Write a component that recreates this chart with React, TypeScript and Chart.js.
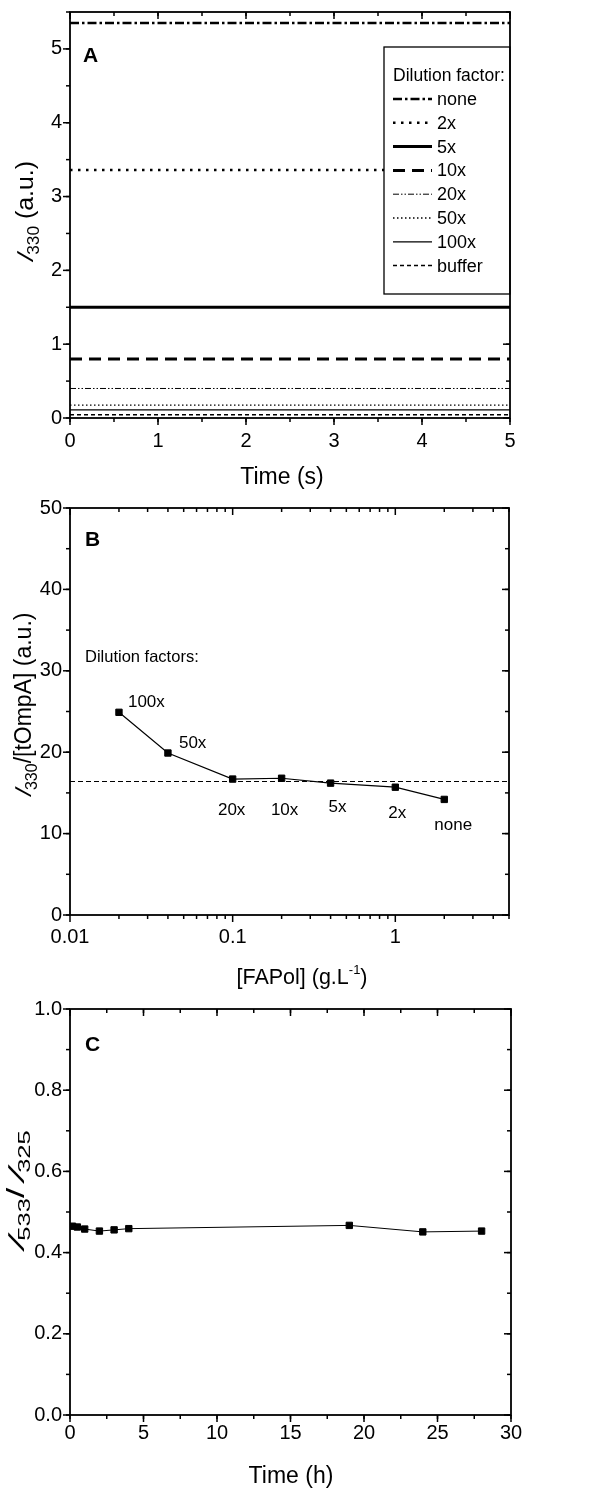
import React, { useEffect, useRef } from 'react';
import { Chart, registerables } from 'chart.js';

Chart.register(...registerables);

const FONT = "'Liberation Sans', Arial, Helvetica, sans-serif";

// ---------- Panel A data ----------
const timeRangeA = [0, 5];
const dilutionNamesA = ['none', '2x', '5x', '10x', '20x', '50x', '100x', 'buffer'];
const intensityA = [5.35, 3.36, 1.5, 0.8, 0.4, 0.175, 0.11, 0.045];

// ---------- Panel B data ----------
const fapolB = [0.02, 0.04, 0.1, 0.2, 0.4, 1, 2];
const ratioB = [24.9, 19.9, 16.7, 16.8, 16.2, 15.7, 14.2];
const dilutionNamesB = ['100x', '50x', '20x', '10x', '5x', '2x', 'none'];
const meanRatioB = 16.4;
const fapolRangeB = [0.01, 5];
const logTicksB = [0.01, 0.1, 1];

// ---------- Panel C data ----------
const timeC = [0.17, 0.5, 1, 2, 3, 4, 19, 24, 28];
const ratioC = [0.465, 0.463, 0.458, 0.453, 0.456, 0.459, 0.467, 0.451, 0.453];

// ---------- styles ----------
const lineStylesA = [
  { width: 2.5, dash: [9, 3, 2.5, 3] },
  { width: 2.5, dash: [2.5, 5.5] },
  { width: 3, dash: [] as number[] },
  { width: 3, dash: [12, 7] },
  { width: 1, dash: [6, 2, 1.5, 2, 1.5, 2] },
  { width: 1.3, dash: [1.5, 2.5] },
  { width: 1.3, dash: [] as number[] },
  { width: 1.5, dash: [4, 3] },
];

// label offsets (px) relative to each point in panel B
const labelOffsetsB = [
  { dx: 9, dy: -10, align: 'left' },
  { dx: 11, dy: -10, align: 'left' },
  { dx: -1, dy: 31, align: 'center' },
  { dx: 3, dy: 32, align: 'center' },
  { dx: 7, dy: 24, align: 'center' },
  { dx: 2, dy: 26, align: 'center' },
  { dx: 9, dy: 26, align: 'center' },
];

type Part = { t: string; font: string; dy?: number; skew?: number; pad?: number };

function drawRich(
  ctx: CanvasRenderingContext2D,
  x: number,
  y: number,
  parts: Part[],
  align: 'center' | 'left',
  rotate = false,
  sx = 1
) {
  ctx.save();
  ctx.fillStyle = '#000';
  ctx.textBaseline = 'alphabetic';
  ctx.textAlign = 'left';
  let total = 0;
  const widths = parts.map((p) => {
    ctx.font = p.font;
    const w = ctx.measureText(p.t).width + (p.pad || 0);
    total += w;
    return w;
  });
  ctx.translate(x, y);
  if (rotate) ctx.rotate(-Math.PI / 2);
  ctx.scale(sx, 1);
  let cx = align === 'center' ? -total / 2 : 0;
  parts.forEach((p, i) => {
    ctx.font = p.font;
    if (p.skew) {
      ctx.save();
      ctx.translate(cx + (p.pad || 0) / 2, p.dy || 0);
      ctx.transform(1, 0, -p.skew, 1, 0, 0);
      ctx.fillText(p.t, 0, 0);
      ctx.restore();
    } else {
      ctx.fillText(p.t, cx, p.dy || 0);
    }
    cx += widths[i];
  });
  ctx.restore();
}

function steps(min: number, max: number, step: number) {
  const out: number[] = [];
  const n = Math.round((max - min) / step);
  for (let i = 0; i <= n; i++) out.push(+(min + i * step).toFixed(6));
  return out;
}

function logMinor(decades: number[], max: number) {
  const out: number[] = [];
  decades.forEach((d) => {
    for (let k = 2; k <= 9; k++) {
      const v = +(k * d).toFixed(6);
      if (v <= max) out.push(v);
    }
  });
  return out;
}

function line(ctx: CanvasRenderingContext2D, x1: number, y1: number, x2: number, y2: number) {
  ctx.beginPath();
  ctx.moveTo(x1, y1);
  ctx.lineTo(x2, y2);
  ctx.stroke();
}

function makeFramePlugin(xMinor: number[], yMinor: number[], extra?: (chart: any) => void) {
  return {
    id: 'frameTicks',
    afterDatasetsDraw(chart: any) {
      const ctx: CanvasRenderingContext2D = chart.ctx;
      const { left, right, top, bottom } = chart.chartArea;
      const xs = chart.scales.x;
      const ys = chart.scales.y;
      const MAJ = 7;
      const MIN = 4;
      ctx.save();
      ctx.strokeStyle = '#000';
      ctx.lineWidth = 1.5;
      ctx.setLineDash([]);
      xs.ticks.forEach((t: any) => {
        const px = xs.getPixelForValue(t.value);
        line(ctx, px, bottom, px, bottom + MAJ);
        line(ctx, px, top, px, top + MAJ);
      });
      xMinor.forEach((v) => {
        const px = xs.getPixelForValue(v);
        if (px < left - 0.5 || px > right + 0.5) return;
        line(ctx, px, bottom, px, bottom + MIN);
        line(ctx, px, top, px, top + MIN);
      });
      ys.ticks.forEach((t: any) => {
        const py = ys.getPixelForValue(t.value);
        line(ctx, left - MAJ, py, left, py);
        line(ctx, right - MAJ, py, right, py);
      });
      yMinor.forEach((v) => {
        const py = ys.getPixelForValue(v);
        if (py < top - 0.5 || py > bottom + 0.5) return;
        line(ctx, left - MIN, py, left, py);
        line(ctx, right - MIN, py, right, py);
      });
      ctx.restore();
    },
    afterDraw(chart: any) {
      const ctx: CanvasRenderingContext2D = chart.ctx;
      if (extra) extra(chart);
      const { left, right, top, bottom } = chart.chartArea;
      ctx.save();
      ctx.strokeStyle = '#000';
      ctx.lineWidth = 1.8;
      ctx.setLineDash([]);
      ctx.strokeRect(left, top, right - left, bottom - top);
      ctx.restore();
    },
  };
}

const tickFont = { family: FONT, size: 20 };
const titleFont = `23px ${FONT}`;
const italicFont = `italic 23px ${FONT}`;
const subFont = `16px ${FONT}`;
const letterFont = `bold 21px ${FONT}`;

const fitY = (s: any) => {
  s.width = 70;
  s.paddingTop = 0;
  s.paddingBottom = 0;
};
const fitX = (s: any) => {
  s.height = 40;
  s.paddingLeft = 0;
  s.paddingRight = 0;
};

function baseScale(extra: any) {
  return {
    type: 'linear',
    grid: { display: false, drawTicks: false },
    border: { display: false },
    ...extra,
    ticks: { color: '#000', font: tickFont, ...(extra.ticks || {}) },
  };
}

function configA(): any {
  const datasets = dilutionNamesA.map((name, i) => ({
    label: name,
    data: timeRangeA.map((t) => ({ x: t, y: intensityA[i] })),
    borderColor: '#000',
    borderWidth: lineStylesA[i].width,
    borderDash: lineStylesA[i].dash,
    borderCapStyle: 'butt',
    pointRadius: 0,
    fill: false,
    tension: 0,
  }));
  const extra = (chart: any) => {
    const ctx: CanvasRenderingContext2D = chart.ctx;
    const { left, right, top } = chart.chartArea;
    // legend box
    const bx = right - 126;
    const by = top + 35;
    const bw = 126;
    const bh = 247;
    ctx.save();
    ctx.fillStyle = '#fff';
    ctx.fillRect(bx, by, bw, bh);
    ctx.strokeStyle = '#000';
    ctx.lineWidth = 1.3;
    ctx.strokeRect(bx, by, bw, bh);
    ctx.fillStyle = '#000';
    ctx.font = `17.5px ${FONT}`;
    ctx.textBaseline = 'middle';
    ctx.textAlign = 'left';
    ctx.fillText('Dilution factor:', bx + 9, by + 29);
    ctx.font = `18px ${FONT}`;
    dilutionNamesA.forEach((name, i) => {
      const y = by + 52 + i * 23.8;
      ctx.strokeStyle = '#000';
      ctx.lineWidth = lineStylesA[i].width;
      ctx.setLineDash(lineStylesA[i].dash);
      ctx.lineCap = 'butt';
      line(ctx, bx + 9, y, bx + 48, y);
      ctx.setLineDash([]);
      ctx.fillText(name, bx + 53, y + 1);
    });
    ctx.restore();
    // panel letter
    drawRich(ctx, left + 13, top + 50, [{ t: 'A', font: letterFont }], 'left');
    // axis titles
    drawRich(ctx, 282, 484, [{ t: 'Time (s)', font: titleFont }], 'center');
    drawRich(
      ctx,
      33,
      213,
      [
        { t: 'I', font: italicFont, skew: 0.35, pad: 3 },
        { t: '330', font: subFont, dy: 6 },
        { t: ' (a.u.)', font: titleFont },
      ],
      'center',
      true,
      1.08
    );
  };
  return {
    type: 'line',
    data: { datasets },
    options: {
      animation: false,
      responsive: false,
      events: [],
      layout: { padding: { top: 12, right: 83, bottom: 42, left: 0 } },
      plugins: { legend: { display: false }, tooltip: { enabled: false } },
      scales: {
        x: baseScale({ min: 0, max: 5, ticks: { stepSize: 1, padding: 11 }, afterFit: fitX }),
        y: baseScale({ min: 0, max: 5.5, ticks: { stepSize: 1, padding: 8, includeBounds: false }, afterFit: fitY }),
      },
    },
    plugins: [makeFramePlugin(steps(0, 5, 0.5), steps(0, 5.5, 0.5), extra)],
  };
}

function configB(): any {
  const datasets = [
    {
      label: 'I330/[tOmpA]',
      data: fapolB.map((x, i) => ({ x, y: ratioB[i] })),
      borderColor: '#000',
      backgroundColor: '#000',
      borderWidth: 1.2,
      pointStyle: 'rect',
      pointRadius: 4.5,
      pointBorderWidth: 1,
      tension: 0,
      fill: false,
    },
    {
      label: 'mean',
      data: fapolRangeB.map((x) => ({ x, y: meanRatioB })),
      borderColor: '#000',
      borderWidth: 1.1,
      borderDash: [5, 3],
      pointRadius: 0,
      tension: 0,
      fill: false,
    },
  ];
  const extra = (chart: any) => {
    const ctx: CanvasRenderingContext2D = chart.ctx;
    const { left, top } = chart.chartArea;
    const xs = chart.scales.x;
    const ys = chart.scales.y;
    ctx.save();
    ctx.fillStyle = '#000';
    ctx.font = `17px ${FONT}`;
    ctx.textBaseline = 'middle';
    dilutionNamesB.forEach((name, i) => {
      const o = labelOffsetsB[i];
      ctx.textAlign = o.align as CanvasTextAlign;
      ctx.fillText(name, xs.getPixelForValue(fapolB[i]) + o.dx, ys.getPixelForValue(ratioB[i]) + o.dy);
    });
    ctx.textAlign = 'left';
    ctx.font = `16.5px ${FONT}`;
    ctx.fillText('Dilution factors:', left + 15, top + 149);
    ctx.restore();
    drawRich(ctx, left + 15, top + 38, [{ t: 'B', font: letterFont }], 'left');
    drawRich(
      ctx,
      302,
      484,
      [
        { t: '[FAPol] (g.L', font: `21.5px ${FONT}` },
        { t: '-1', font: `13px ${FONT}`, dy: -10 },
        { t: ')', font: `21.5px ${FONT}` },
      ],
      'center'
    );
    drawRich(
      ctx,
      31,
      206,
      [
        { t: 'I', font: italicFont, skew: 0.35, pad: 3 },
        { t: '330', font: subFont, dy: 6 },
        { t: '/[tOmpA] (a.u.)', font: titleFont },
      ],
      'center',
      true
    );
  };
  return {
    type: 'line',
    data: { datasets },
    options: {
      animation: false,
      responsive: false,
      events: [],
      layout: { padding: { top: 8, right: 84, bottom: 40, left: 0 } },
      plugins: { legend: { display: false }, tooltip: { enabled: false } },
      scales: {
        x: {
          type: 'logarithmic',
          min: fapolRangeB[0],
          max: fapolRangeB[1],
          grid: { display: false, drawTicks: false },
          border: { display: false },
          afterBuildTicks: (s: any) => {
            s.ticks = logTicksB.map((value) => ({ value }));
          },
          ticks: {
            color: '#000',
            font: tickFont,
            padding: 10,
            autoSkip: false,
            maxRotation: 0,
            callback: (v: any) => String(Number(v)),
          },
          afterFit: fitX,
        },
        y: baseScale({ min: 0, max: 50, ticks: { stepSize: 10, padding: 8 }, afterFit: fitY }),
      },
    },
    plugins: [makeFramePlugin(logMinor(logTicksB, fapolRangeB[1]), steps(0, 50, 5), extra)],
  };
}

function configC(): any {
  const datasets = [
    {
      label: 'I533/I325',
      data: timeC.map((x, i) => ({ x, y: ratioC[i] })),
      borderColor: '#000',
      backgroundColor: '#000',
      borderWidth: 1,
      pointStyle: 'rect',
      pointRadius: 4.5,
      pointBorderWidth: 1,
      tension: 0,
      fill: false,
    },
  ];
  const extra = (chart: any) => {
    const ctx: CanvasRenderingContext2D = chart.ctx;
    const { left, top } = chart.chartArea;
    drawRich(ctx, left + 15, top + 42, [{ t: 'C', font: letterFont }], 'left');
    drawRich(ctx, 291, 488, [{ t: 'Time (h)', font: titleFont }], 'center');
    drawRich(
      ctx,
      24,
      198,
      [
        { t: 'I', font: italicFont, skew: 0.45, pad: 3 },
        { t: '533', font: subFont, dy: 6 },
        { t: '/', font: titleFont },
        { t: 'I', font: italicFont, skew: 0.45, pad: 3 },
        { t: '325', font: subFont, dy: 6 },
      ],
      'center',
      true,
      1.6
    );
  };
  return {
    type: 'line',
    data: { datasets },
    options: {
      animation: false,
      responsive: false,
      events: [],
      layout: { padding: { top: 14, right: 82, bottom: 36, left: 0 } },
      plugins: { legend: { display: false }, tooltip: { enabled: false } },
      scales: {
        x: baseScale({ min: 0, max: 30, ticks: { stepSize: 5, padding: 6 }, afterFit: fitX }),
        y: baseScale({
          min: 0,
          max: 1,
          ticks: { stepSize: 0.2, padding: 8, callback: (v: any) => Number(v).toFixed(1) },
          afterFit: fitY,
        }),
      },
    },
    plugins: [makeFramePlugin(steps(0, 30, 2.5), steps(0, 1, 0.1), extra)],
  };
}

function Panel({ top, height, make }: { top: number; height: number; make: () => any }) {
  const ref = useRef<HTMLCanvasElement | null>(null);
  useEffect(() => {
    if (!ref.current) return;
    const chart = new Chart(ref.current, make());
    return () => chart.destroy();
  }, [make]);
  return (
    <canvas
      ref={ref}
      width={593}
      height={height}
      style={{ position: 'absolute', left: 0, top, width: 593, height, display: 'block' }}
    />
  );
}

export default function App() {
  return (
    <div
      style={{
        position: 'absolute',
        left: 0,
        top: 0,
        width: 593,
        height: 1491,
        background: '#fff',
        overflow: 'hidden',
      }}
    >
      <Panel top={0} height={500} make={configA} />
      <Panel top={500} height={495} make={configB} />
      <Panel top={995} height={496} make={configC} />
    </div>
  );
}
